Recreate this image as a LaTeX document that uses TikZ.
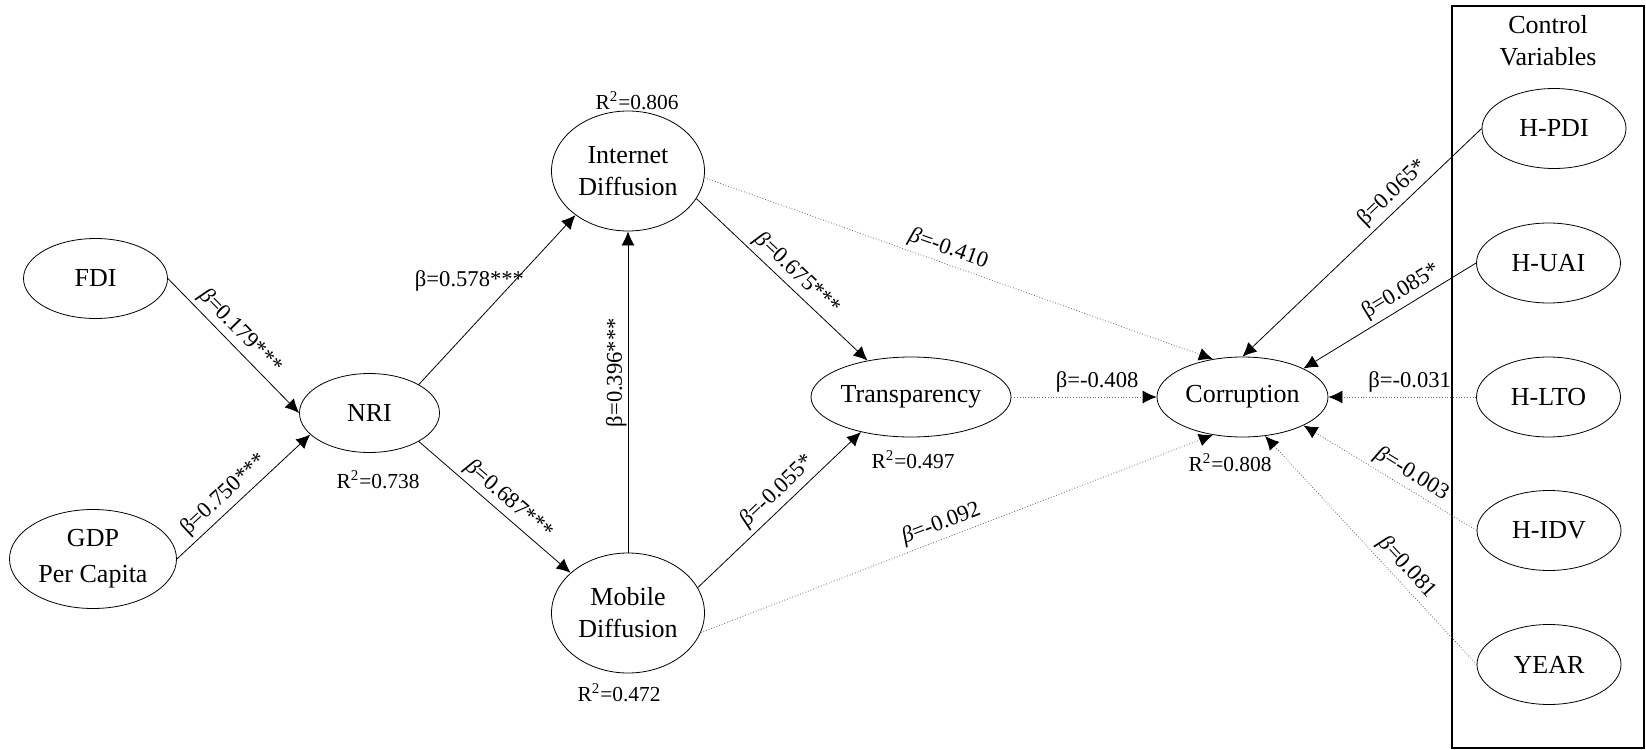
\documentclass[tikz,border=0pt]{standalone}
\usepackage{fontspec}
\setmainfont{Liberation Serif}
\usetikzlibrary{arrows.meta,shapes.geometric}
\newcommand{\ib}{\textit{β}}
\newcommand{\rsq}[1]{R\textsuperscript{2}=#1}

\begin{document}
\begin{tikzpicture}[x=0.5pt,y=-0.5pt,
    var/.style={draw,ellipse,inner sep=0pt,align=center,font=\fontsize{13}{16}\selectfont},
    ctrl/.style={var,minimum width=72pt,minimum height=40pt},
    rlabel/.style={font=\fontsize{10.7}{12}\selectfont},
    lbl/.style={font=\fontsize{11.3}{13}\selectfont,inner sep=2pt},
    blabel/.style={lbl,sloped,above},
    effect/.style={-{Latex[length=7pt,width=6.5pt]}},
    weak/.style={densely dotted,draw=black!60,-{Latex[length=7pt,width=6.5pt,color=black]}}]
\useasboundingbox (0,0) rectangle (1646,750);

% latent variables
\node[var,minimum width=72pt,minimum height=40pt] (fdi) at (95.5,278.5) {FDI};
\node[var,minimum width=83.5pt,minimum height=49.5pt,font=\fontsize{13}{18}\selectfont] (gdp) at (93,559) {GDP\\Per Capita};
\node[var,minimum width=70pt,minimum height=39.5pt] (nri) at (369.5,413) {NRI};
\node[var,minimum width=76.5pt,minimum height=60pt] (inet) at (628,171) {Internet\\Diffusion};
\node[var,minimum width=76.5pt,minimum height=60pt] (mob) at (628,613) {Mobile\\Diffusion};
\node[var,minimum width=100pt,minimum height=40pt] (transp) at (911,397) {Transparency};
\node[var,minimum width=85.5pt,minimum height=40pt] (corr) at (1242.5,397) {Corruption};

% control variables
\draw[line width=0.9pt] (1452,6) rectangle (1644,748);
\node[align=center,font=\fontsize{13}{16}\selectfont] (ctrltitle) at (1548,41) {Control\\Variables};
\node[ctrl] (hpdi) at (1554,128.5) {H-PDI};
\node[ctrl] (huai) at (1548.5,263) {H-UAI};
\node[ctrl] (hlto) at (1548.5,397) {H-LTO};
\node[ctrl] (hidv) at (1549,530.5) {H-IDV};
\node[ctrl] (year) at (1549,664.5) {YEAR};

% R squared
\node[rlabel] (r2inet) at (637,101) {\rsq{0.806}};
\node[rlabel] (r2nri) at (378,480) {\rsq{0.738}};
\node[rlabel] (r2mob) at (619,693) {\rsq{0.472}};
\node[rlabel] (r2transp) at (913,460) {\rsq{0.497}};
\node[rlabel] (r2corr) at (1230,463) {\rsq{0.808}};

% paths
\draw[effect] (fdi.east) -- node[blabel,pos=0.47] {\ib=0.179***} (nri.west);
\draw[effect] (gdp.east) -- node[blabel,pos=0.43] {β=0.750***} (nri.200);
\draw[effect] (nri.30) -- node[lbl,left,pos=0.61,xshift=7pt] {β=0.578***} (inet.220);
\draw[effect] (nri.-30) -- node[blabel,pos=0.53] {\ib=0.687***} (mob.145);
\draw[effect] (mob) -- node[blabel,pos=0.56,inner sep=0.5pt] {β=0.396***} (inet);
\draw[effect] (inet.-22) -- node[blabel,pos=0.53] {\ib=0.675***} (transp.140);
\draw[effect] (mob.20) -- node[blabel,pos=0.55] {\ib=-0.055*} (transp.-145);
\draw[weak] (inet.-5) -- node[blabel,pos=0.47] {\ib=-0.410} (corr.128);
\draw[weak] (transp) -- node[lbl,above,pos=0.59] {β=-0.408} (corr);
\draw[weak] (mob.-15) -- node[blabel,pos=0.48] {\ib=-0.092} (corr.-128);
\draw[effect] (hpdi.west) -- node[blabel,pos=0.33] {β=0.065*} (corr.north);
\draw[effect] (huai.west) -- node[blabel,pos=0.39] {β=0.085*} (corr.25);
\draw[weak] (hlto) -- node[lbl,above,pos=0.45] {β=-0.031} (corr);
\draw[weak] (hidv.west) -- node[blabel,pos=0.42] {\ib=-0.003} (corr.-25);
\draw[weak] (year.west) -- node[blabel,pos=0.38] {\ib=0.081} (corr.-60);
\end{tikzpicture}
\end{document}
